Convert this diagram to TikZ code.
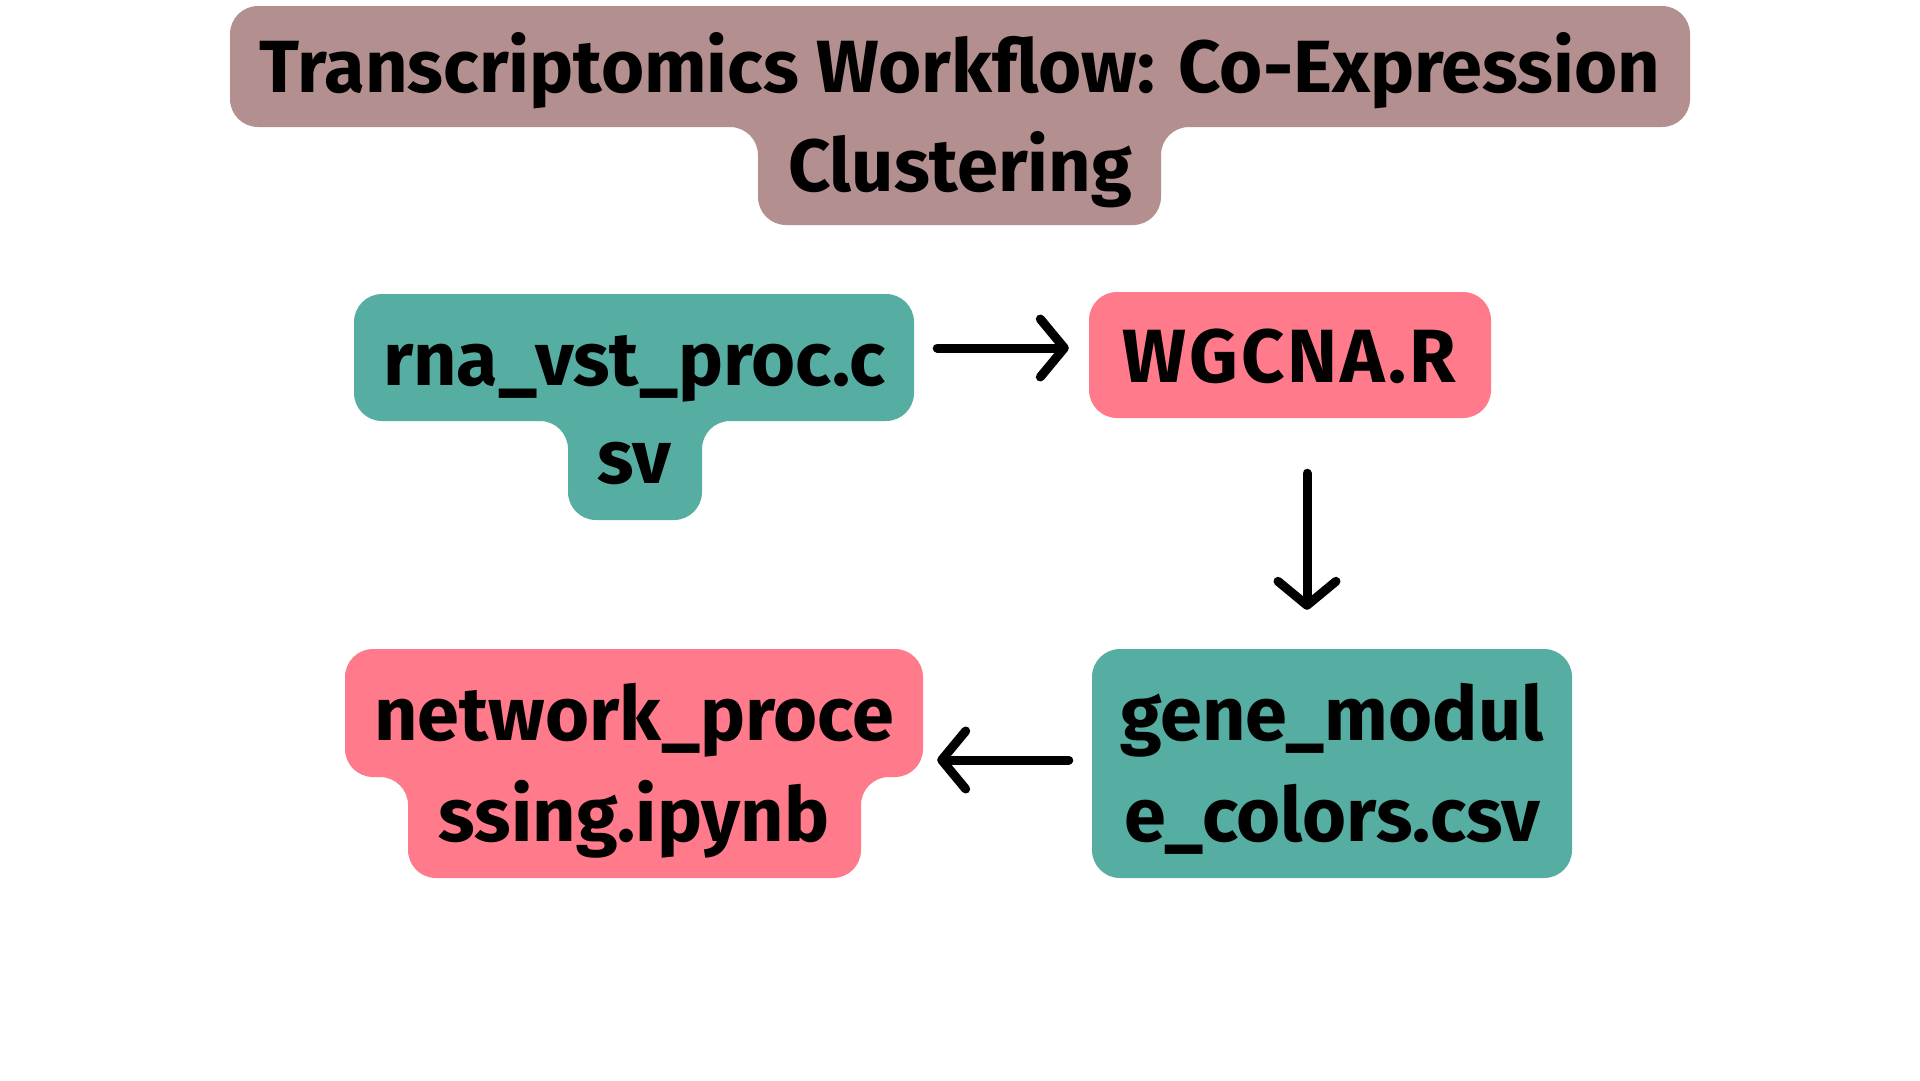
\documentclass[tikz,border=0pt]{standalone}
\usepackage{fontspec}
\setmainfont{Fira Sans}
\usetikzlibrary{arrows.meta}
\definecolor{titlebg}{RGB}{180,143,143}
\definecolor{tealbg}{RGB}{86,174,162}
\definecolor{pinkbg}{RGB}{255,123,139}
\begin{document}
\begin{tikzpicture}[x=1pt,y=-1pt,
  lbl/.style={font=\fontsize{75.5}{100}\selectfont\bfseries, anchor=base, inner sep=0pt, text=black},
  ttl/.style={font=\fontsize{74}{100}\selectfont\bfseries, anchor=base, inner sep=0pt, text=black},
  area/.style={inner sep=0pt, draw=none, minimum width=#1},
  bg/.style={rounded corners=28pt},
  flow/.style={line width=9pt, line cap=round,
    -{Straight Barb[length=24pt,width=58pt,line width=9pt,round]}},
  ]
\useasboundingbox (0,0) rectangle (1920,1080);
\fill[white] (0,0) rectangle (1920,1080);

% title background
\fill[titlebg, bg] (960,6) -- (1690,6) -- (1690,127) -- (1161,127) -- (1161,225)
  -- (758,225) -- (758,127) -- (230,127) -- (230,6) -- cycle;
% rna background
\fill[tealbg, bg] (634,294) -- (914,294) -- (914,421) -- (702,421) -- (702,520)
  -- (568,520) -- (568,421) -- (354,421) -- (354,294) -- cycle;
% WGCNA background
\fill[pinkbg, bg] (1089,292) rectangle (1491,418);
% gene background
\fill[tealbg, bg] (1092,649) rectangle (1572,878);
% network background
\fill[pinkbg, bg] (634,649) -- (923,649) -- (923,777) -- (861,777) -- (861,878)
  -- (408,878) -- (408,777) -- (345,777) -- (345,649) -- cycle;

% area nodes for connectors
\node[area=560pt, minimum height=127pt] (rna) at (634,357.5) {};
\node[area=402pt, minimum height=126pt] (wgcna) at (1290,355) {};
\node[area=480pt, minimum height=229pt] (gene) at (1332,763.5) {};
\node[area=578pt, minimum height=128pt] (net) at (634,713) {};

% texts
\node[ttl] (title1) at (960,92) {Transcriptomics Workflow: Co-Expression};
\node[ttl] (title2) at (960,191) {Clustering};
\node[lbl] (rnaA) at (634.5,385) {rna\_vst\_proc.c};
\node[lbl] (rnaB) at (634.5,483) {sv};
\node[lbl] (wgcnaT) at (1289.5,382) {\addfontfeature{LetterSpace=4}WGCNA.R};
\node[lbl] (geneA) at (1332,740) {gene\_modul};
\node[lbl] (geneB) at (1332,841) {e\_colors.csv};
\node[lbl] (netA) at (634,740) {network\_proce};
\node[lbl] (netB) at (634,841) {ssing.ipynb};

% connectors
\draw[flow, shorten <=23pt, shorten >=20pt] ([yshift=9.5pt]rna.east) -- ([yshift=9.5pt]rna.east -| wgcna.west);
\draw[flow, shorten <=55pt, shorten >=39pt] ([xshift=17pt]wgcna.south) -- ([xshift=17pt]wgcna.south |- gene.north);
\draw[flow, shorten <=23pt, shorten >=14pt] ([yshift=3.5pt]gene.west) -- ([yshift=3.5pt]gene.west -| net.east);
\end{tikzpicture}
\end{document}
